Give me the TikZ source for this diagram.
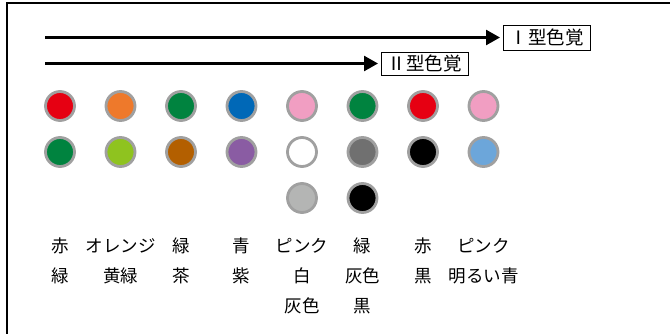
\documentclass[tikz,border=0pt]{standalone}
\usepackage{fontspec}
\setmainfont{Noto Sans CJK JP}
\usetikzlibrary{arrows.meta}
\definecolor{cred}{HTML}{E60012}
\definecolor{corange}{HTML}{EE792B}
\definecolor{cgreen}{HTML}{00833F}
\definecolor{cblue}{HTML}{0068B7}
\definecolor{cpink}{HTML}{F19EC2}
\definecolor{cyg}{HTML}{8FC31F}
\definecolor{cbrown}{HTML}{B35F00}
\definecolor{cpurple}{HTML}{8A5CA3}
\definecolor{cgray}{HTML}{707070}
\definecolor{clblue}{HTML}{6CA6DA}
\definecolor{clgray}{HTML}{B4B5B4}
\definecolor{rim}{HTML}{A0A0A0}
\tikzset{
  dot/.style={circle, draw=rim, line width=2.8pt, minimum size=29pt, inner sep=0pt},
  lbl/.style={font=\fontsize{17.5}{17.5}\selectfont, inner sep=0pt, anchor=center},
  typebox/.style={draw=black, line width=1pt, minimum width=87pt, inner sep=0pt, font=\fontsize{18.5}{18.5}\selectfont},
  arr/.style={line width=2.6pt, -{Triangle[length=14pt,width=15pt]}, shorten >=2.5pt}
}
\begin{document}
\begin{tikzpicture}[x=1pt,y=-1pt]
\useasboundingbox (0,0) rectangle (670,333);
\clip (0,0) rectangle (670,333);
\draw[line width=1.5pt] (7,3) rectangle (675,340);
% arrows and boxes
\node[typebox, minimum height=25pt] (boxI) at (546.5,37.5) {Ⅰ型色覚};
\node[typebox, minimum height=23pt] (boxII) at (424.5,63.5) {Ⅱ型色覚};
\coordinate (s1) at (45,37.5);
\coordinate (s2) at (45,63.5);
\draw[arr] (s1) -- (boxI.west);
\draw[arr] (s2) -- (boxII.west);
% circles row 1
\node[dot, fill=cred]    (r1c1) at (60,106) {};
\node[dot, fill=corange] (r1c2) at (120.5,106) {};
\node[dot, fill=cgreen]  (r1c3) at (181,106) {};
\node[dot, fill=cblue]   (r1c4) at (241.5,106) {};
\node[dot, fill=cpink]   (r1c5) at (302,106) {};
\node[dot, fill=cgreen]  (r1c6) at (362.5,106) {};
\node[dot, fill=cred]    (r1c7) at (423,106) {};
\node[dot, fill=cpink]   (r1c8) at (483.5,106) {};
% row 2
\node[dot, fill=cgreen]  (r2c1) at (60,152) {};
\node[dot, fill=cyg]     (r2c2) at (120.5,152) {};
\node[dot, fill=cbrown]  (r2c3) at (181,152) {};
\node[dot, fill=cpurple] (r2c4) at (241.5,152) {};
\node[dot, fill=white]   (r2c5) at (302,152) {};
\node[dot, fill=cgray]   (r2c6) at (362.5,152) {};
\node[dot, fill=black]   (r2c7) at (423,152) {};
\node[dot, fill=clblue]  (r2c8) at (483.5,152) {};
% row 3
\node[dot, fill=clgray]  (r3c5) at (302,198) {};
\node[dot, fill=black]   (r3c6) at (362.5,198) {};
% labels row 1
\node[lbl] (t1a) at (60,246) {赤};
\node[lbl] (t2a) at (120.5,246) {オレンジ};
\node[lbl] (t3a) at (181,246) {緑};
\node[lbl] (t4a) at (241.5,246) {青};
\node[lbl] (t5a) at (302,246) {ピンク};
\node[lbl] (t6a) at (362.5,246) {緑};
\node[lbl] (t7a) at (423,246) {赤};
\node[lbl] (t8a) at (483.5,246) {ピンク};
% labels row 2
\node[lbl] (t1b) at (60,276) {緑};
\node[lbl] (t2b) at (120.5,276) {黄緑};
\node[lbl] (t3b) at (181,276) {茶};
\node[lbl] (t4b) at (241.5,276) {紫};
\node[lbl] (t5b) at (302,276) {白};
\node[lbl] (t6b) at (362.5,276) {灰色};
\node[lbl] (t7b) at (423,276) {黒};
\node[lbl] (t8b) at (483.5,276) {明るい青};
% labels row 3
\node[lbl] (t5c) at (302,306) {灰色};
\node[lbl] (t6c) at (362.5,306) {黒};
\end{tikzpicture}
\end{document}
